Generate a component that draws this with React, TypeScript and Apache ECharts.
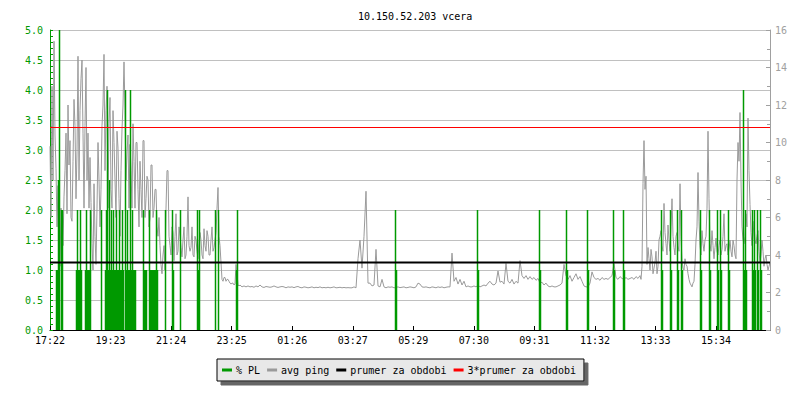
import React, { useEffect, useRef } from "react";
import * as echarts from "echarts";

const titleText = "10.150.52.203 vcera";
const tickLabels = ["17:22", "19:23", "21:24", "23:25", "01:26", "03:27", "05:29", "07:30", "09:31", "11:32", "13:33", "15:34"];
const tickStepMin = 121.1;
const totalMin = 1440;

// avg ping (ms). Segment A: every 2 min from 17:22 (minute 0 .. 380)
const pingAStart = 0;
const pingAStep = 2;
const pingA = [
  9.8, 6.0, 13.0, 8.0, 15.4, 10.4, 8.6, 5.5, 7.7, 4.2,
  3.4, 6.5, 5.5, 4.5, 7.1, 8.5, 10.5, 6.2, 12.0, 8.8,
  10.1, 6.0, 5.8, 9.0, 12.3, 10.9, 7.0, 9.5, 14.6, 8.0,
  11.7, 13.4, 14.4, 10.5, 6.5, 10.9, 14.0, 8.0, 10.5, 6.5,
  9.2, 6.8, 4.6, 3.2, 7.8, 5.0, 3.5, 6.5, 10.0, 8.0,
  5.5, 7.5, 10.9, 12.0, 14.7, 8.5, 11.7, 13.0, 6.5, 11.0,
  12.4, 7.5, 6.5, 11.7, 10.0, 8.0, 6.0, 10.6, 9.7, 7.0,
  5.0, 8.5, 10.7, 12.0, 14.3, 11.7, 8.0, 9.5, 10.4, 6.5,
  9.9, 8.5, 6.5, 11.0, 9.0, 6.5, 10.0, 10.0, 7.5, 5.5,
  9.0, 7.5, 6.0, 10.1, 10.1, 6.0, 7.0, 8.2, 8.0, 5.5,
  6.0, 8.8, 8.8, 6.0, 6.5, 7.5, 7.5, 5.5, 5.0, 6.0,
  4.5, 3.5, 3.0, 4.0, 4.5, 3.2, 6.5, 8.5, 8.5, 5.0,
  4.5, 4.0, 5.5, 5.2, 3.7, 5.0, 6.2, 4.0, 4.2, 5.5,
  5.0, 4.4, 3.9, 4.8, 5.5, 3.8, 4.0, 5.0, 7.1, 4.5,
  4.2, 4.4, 5.5, 4.0, 3.9, 5.0, 4.8, 4.2, 3.8, 4.6,
  5.2, 4.8, 4.0, 3.8, 5.4, 4.5, 4.2, 5.3, 5.0, 4.0,
  4.0, 4.8, 5.5, 4.2, 4.4, 4.8, 5.2, 6.5, 7.6, 5.0,
  4.5, 3.6, 2.7, 2.6, 2.8, 2.8, 2.6, 2.7, 2.7, 2.6,
  2.5, 2.45, 2.5, 2.5, 2.4, 2.45, 3.5, 3.0, 2.4, 2.35,
  2.4
];

// Segment B: every 4 min (minute 384 .. 1176)
const pingBStart = 384;
const pingBStep = 4;
const pingB = [
  2.3, 2.35, 2.3, 2.35,
  2.3, 2.32, 2.28, 2.35, 2.3, 2.4, 2.3, 2.27, 2.32, 2.3,
  2.28, 2.3, 2.35, 2.3, 2.27, 2.3, 2.32, 2.3, 2.25, 2.3,
  2.28, 2.3, 2.26, 2.3, 2.32, 2.27, 2.25, 2.3, 2.28, 2.25,
  2.27, 2.3, 2.25, 2.28, 2.26, 2.3, 2.25, 2.27, 2.25, 2.28,
  2.25, 2.27, 2.3, 2.25, 2.26, 2.28, 2.25, 2.27, 2.25, 2.26,
  2.25, 2.25, 2.3, 2.25, 3.8, 4.8, 3.3, 5.0, 7.4, 2.5,
  2.5, 2.35, 2.4, 4.3, 2.35, 2.3, 2.7, 2.3, 2.25, 2.3,
  2.28, 2.3, 2.25, 2.27, 2.3, 2.26, 2.28, 2.3, 2.25, 2.27,
  2.3, 2.28, 2.25, 2.3, 2.5, 2.45, 2.3, 2.28, 2.3, 2.27,
  2.25, 2.3, 2.28, 2.25, 2.3, 2.27, 2.3, 2.25, 2.28, 2.3,
  2.3, 4.1, 2.6, 2.8, 2.45, 2.7, 2.4, 2.6, 2.3, 2.35,
  2.3, 2.3, 2.35, 2.3, 2.4, 2.3, 2.35, 2.4, 2.35, 2.5,
  2.6, 2.45, 2.4, 2.5, 3.15, 2.55, 2.6, 2.45, 3.55, 2.6,
  2.5, 2.7, 2.45, 2.6, 2.5, 3.7, 2.9, 2.75, 2.9, 2.7,
  2.85, 2.7, 2.8, 2.65, 2.75, 2.5, 2.55, 2.4, 2.5, 2.35,
  2.3, 2.35, 2.3, 2.3, 2.35, 2.4, 2.5, 3.5, 2.9, 2.7,
  2.9, 2.6, 2.8, 3.0, 2.7, 2.85, 2.6, 2.35, 2.3, 2.3,
  2.5, 3.1, 2.8, 2.7, 2.75, 2.65, 2.8, 2.7, 2.75, 2.7,
  2.8, 2.9, 3.55, 2.8, 2.7, 2.85, 2.75, 2.7, 2.8, 2.7,
  2.75, 2.8, 2.7, 2.85, 2.75
];

// Segment C: every 2 min (minute 1180 .. 1440)
const pingCStart = 1180;
const pingCStep = 2;
const pingC = [
  2.9, 2.7, 3.4, 7.8, 10.1, 7.5, 8.2, 3.5, 4.4, 3.8,
  3.2, 4.3, 3.9, 3.0, 3.3, 3.6, 4.2, 3.0, 3.4, 4.8,
  5.0, 5.3, 4.5, 4.2, 6.75, 5.2, 4.6, 4.0, 5.6, 4.8,
  4.2, 5.5, 7.0, 5.0, 4.4, 4.0, 5.0, 5.2, 4.5, 4.2,
  7.8, 5.0, 3.7, 3.3, 3.2, 3.8, 3.5, 3.4, 3.0, 2.7,
  2.5, 2.4, 2.3, 2.5, 2.6, 3.5, 4.8, 5.5, 8.4, 5.8,
  4.5, 4.0, 5.3, 4.6, 4.2, 4.8, 5.0, 6.5, 10.6, 7.0,
  4.6, 4.2, 5.3, 4.5, 3.8, 4.4, 4.9, 4.2, 4.0, 4.5,
  4.8, 4.0, 4.3, 5.0, 6.2, 4.2, 4.5, 4.6, 4.0, 4.3,
  4.8, 4.2, 3.9, 4.8, 4.5, 4.0, 3.8, 8.0, 10.0, 9.0,
  11.6, 8.0, 5.5, 4.8, 4.6, 5.0, 6.2, 5.5, 11.3, 8.5,
  6.7, 5.2, 4.5, 5.0, 5.8, 4.8, 4.6, 5.0, 5.3, 4.2,
  3.6, 4.0, 4.8, 4.2, 3.4, 3.8, 4.0, 3.5, 3.2, 3.4,
  3.6
];

// packet loss events: [minute since 17:22, % PL]
const plEvents = [
  [13, 1.0], [15, 1.0], [17, 2.5], [19, 5.0], [23, 2.0], [25, 2.0],
  [53, 1.0], [55, 2.0], [57, 1.0], [59, 1.0], [61, 2.0], [63, 1.0],
  [71, 1.0], [73, 2.0], [75, 1.0], [77, 1.0], [79, 1.0], [81, 2.0],
  [103, 2.0],
  [111, 1.0], [113, 2.0], [115, 4.0], [117, 1.0], [119, 2.5], [121, 1.0], [123, 2.0], [125, 1.0], [127, 2.0], [129, 1.0],
  [131, 1.0], [133, 2.0], [135, 1.0], [137, 1.0], [139, 2.0], [141, 1.0], [143, 1.0], [145, 2.0], [147, 1.0],
  [151, 4.0], [153, 1.0], [155, 2.0], [157, 1.0], [159, 1.0], [161, 4.0], [163, 1.0], [165, 2.0], [167, 1.0], [169, 1.0], [171, 1.0],
  [187, 2.0], [189, 1.0], [191, 1.0], [193, 1.0],
  [199, 2.0], [201, 1.0], [203, 1.0], [205, 1.0], [207, 1.0], [209, 1.0], [211, 1.0], [213, 2.0], [215, 1.0],
  [231, 2.0], [245, 2.0], [247, 1.0], [261, 2.0],
  [295, 2.0], [297, 1.0], [299, 2.0], [331, 2.0], [337, 2.0],
  [373, 1.0], [375, 2.0], [691, 2.0], [693, 1.0],
  [855, 2.0], [857, 1.0], [979, 2.0], [981, 1.0], [1033, 2.0], [1035, 1.0],
  [1075, 2.0], [1077, 1.0], [1127, 2.0], [1129, 1.0], [1147, 2.0], [1149, 1.0],
  [1223, 2.0], [1225, 1.0], [1241, 2.0], [1243, 1.0], [1255, 2.0], [1257, 1.0],
  [1263, 2.0], [1265, 1.0], [1301, 2.0], [1303, 1.0], [1319, 2.0], [1321, 1.0],
  [1335, 2.0], [1337, 1.0], [1341, 2.0], [1343, 1.0], [1357, 2.0], [1359, 1.0],
  [1387, 4.0], [1389, 1.0], [1391, 2.0], [1393, 1.0],
  [1405, 2.0], [1407, 1.0], [1409, 2.0], [1411, 1.0], [1415, 2.0], [1417, 1.0], [1421, 2.0], [1423, 1.0]
];

const avgPing = 3.6;

const FONT = "DejaVu Sans Mono";
const GREEN = "#009900";
const GRAY = "#9a9a9a";

export default function App() {
  const ref = useRef<HTMLDivElement>(null);
  useEffect(() => {
    if (!ref.current) return;
    const chart = echarts.init(ref.current, null, { renderer: "svg" });
    const pingData = [
      ...pingA.map((v, i) => [pingAStart + i * pingAStep, v]),
      ...pingB.map((v, i) => [pingBStart + i * pingBStep, v]),
      ...pingC.map((v, i) => [pingCStart + i * pingCStep, v]),
    ];
    chart.setOption({
      animation: false,
      backgroundColor: "#ffffff",
      title: {
        text: titleText,
        left: 353,
        top: 6,
        textStyle: { fontFamily: FONT, fontSize: 10, fontWeight: "normal", color: "#000" },
      },
      legend: {
        data: ["% PL", "avg ping", "prumer za obdobi", "3*prumer za obdobi"],
        left: 217,
        top: 359,
        icon: "rect",
        itemWidth: 10,
        itemHeight: 3,
        itemGap: 7,
        padding: [6, 8, 6, 5],
        backgroundColor: "#e8e8e8",
        borderColor: "#000",
        borderWidth: 1,
        shadowColor: "#666",
        shadowBlur: 0,
        shadowOffsetX: 4,
        shadowOffsetY: 4,
        textStyle: { fontFamily: FONT, fontSize: 10, color: "#000", padding: [0, 0, 0, -1] },
      },
      grid: { left: 50, right: 30, top: 30, bottom: 70, containLabel: false },
      xAxis: {
        type: "value",
        min: 0,
        max: totalMin,
        interval: tickStepMin,
        axisLine: { lineStyle: { color: "#000", width: 1 } },
        axisTick: { inside: true, length: 4, lineStyle: { color: "#000" } },
        splitLine: { show: false },
        axisLabel: {
          showMaxLabel: false,
          margin: 5,
          fontFamily: FONT,
          fontSize: 10,
          color: "#000",
          formatter: (v: number) => {
            const k = v / tickStepMin;
            const r = Math.round(k);
            return Math.abs(k - r) < 1e-6 && tickLabels[r] ? tickLabels[r] : "";
          },
        },
      },
      yAxis: [
        {
          type: "value",
          min: 0,
          max: 5,
          interval: 0.5,
          axisLine: { show: true, lineStyle: { color: GREEN } },
          axisTick: { show: true, inside: true, length: 3, lineStyle: { color: GREEN } },
          minorTick: { show: true, splitNumber: 5, length: 3, lineStyle: { color: GREEN } },
          splitLine: { show: true, lineStyle: { color: "#c0c0c0", width: 1 } },
          axisLabel: {
            margin: 7,
            fontFamily: FONT,
            fontSize: 10,
            color: GREEN,
            formatter: (v: number) => v.toFixed(1),
          },
        },
        {
          type: "value",
          min: 0,
          max: 16,
          interval: 2,
          position: "right",
          axisLine: { show: true, lineStyle: { color: "#a0a0a0" } },
          axisTick: { show: true, inside: true, length: 4, lineStyle: { color: "#a0a0a0" } },
          minorTick: { show: true, splitNumber: 2, length: 3, lineStyle: { color: "#a0a0a0" } },
          splitLine: { show: false },
          axisLabel: { margin: 5, fontFamily: FONT, fontSize: 10, color: "#a0a0a0" },
        },
      ],
      series: [
        {
          name: "avg ping",
          type: "line",
          yAxisIndex: 1,
          data: pingData,
          showSymbol: false,
          symbol: "none",
          itemStyle: { color: GRAY },
          lineStyle: { color: GRAY, width: 1 },
          z: 2,
        },
        {
          name: "% PL",
          type: "bar",
          yAxisIndex: 0,
          data: plEvents,
          barWidth: 1.5,
          itemStyle: { color: GREEN, borderWidth: 0 },
          z: 3,
        },
        {
          name: "prumer za obdobi",
          type: "line",
          yAxisIndex: 1,
          data: [[0, avgPing], [totalMin, avgPing]],
          symbol: "none",
          itemStyle: { color: "#000" },
          lineStyle: { color: "#000", width: 2 },
          z: 4,
        },
        {
          name: "3*prumer za obdobi",
          type: "line",
          yAxisIndex: 1,
          data: [[0, avgPing * 3], [totalMin, avgPing * 3]],
          symbol: "none",
          itemStyle: { color: "#ff0000" },
          lineStyle: { color: "#ff0000", width: 1 },
          z: 5,
        },
      ],
    });
    return () => chart.dispose();
  }, []);
  return (
    <div
      ref={ref}
      style={{ position: "fixed", left: 0, top: 0, width: 800, height: 400, background: "#fff" }}
    />
  );
}
